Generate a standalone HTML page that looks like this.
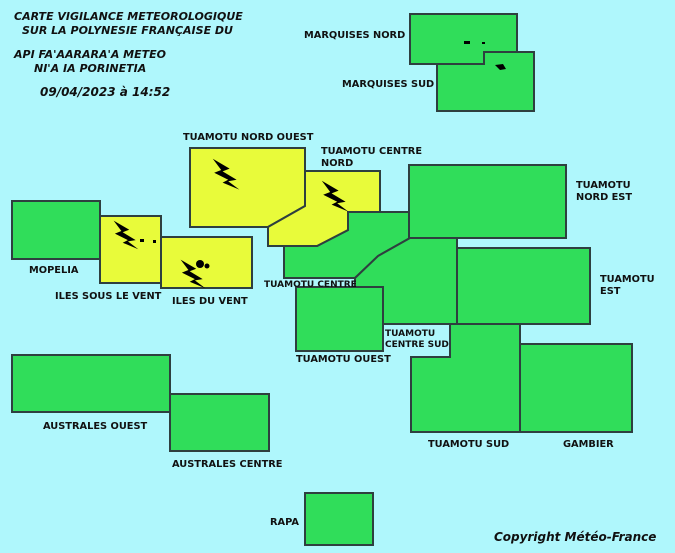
<!DOCTYPE html>
<html><head><meta charset="utf-8"><style>
html,body{margin:0;padding:0;background:#aff7fc;}
svg{display:block}
text{font-family:"DejaVu Sans","Liberation Sans",sans-serif;font-weight:bold;font-size:9.8px;fill:#111;}
.t{font-style:italic;font-size:11px;}
.b{font-style:italic;font-size:12px;}
</style></head><body>
<svg width="675" height="553" viewBox="0 0 675 553" xmlns="http://www.w3.org/2000/svg">
<rect width="675" height="553" fill="#aff7fc"/>
<g stroke="#2e3f3f" stroke-width="2" stroke-linejoin="miter">
<rect x="437" y="52" width="97" height="59" fill="#30dd5a"/>
<polygon points="410,14 517,14 517,52 484,52 484,64 410,64" fill="#30dd5a"/>
<rect x="12" y="201" width="88" height="58" fill="#30dd5a"/>
<rect x="100" y="216" width="61" height="67" fill="#e8fb3a"/>
<rect x="161" y="237" width="91" height="51" fill="#e8fb3a"/>
<polygon points="190,148 305,148 305,206 268,227 190,227" fill="#e8fb3a"/>
<polygon points="284,246 317,246 348,230 348,212 410,212 410,238 378,256 355,278 284,278" fill="#30dd5a"/>
<polygon points="305,171 380,171 380,212 348,212 348,230 317,246 268,246 268,227 305,206" fill="#e8fb3a"/>
<polygon points="355,278 378,256 410,238 457,238 457,324 383,324 383,287 355,287" fill="#30dd5a"/>
<rect x="409" y="165" width="157" height="73" fill="#30dd5a"/>
<rect x="457" y="248" width="133" height="76" fill="#30dd5a"/>
<rect x="296" y="287" width="87" height="64" fill="#30dd5a"/>
<polygon points="411,357 450,357 450,324 520,324 520,432 411,432" fill="#30dd5a"/>
<rect x="520" y="344" width="112" height="88" fill="#30dd5a"/>
<rect x="12" y="355" width="158" height="57" fill="#30dd5a"/>
<rect x="170" y="394" width="99" height="57" fill="#30dd5a"/>
<rect x="305" y="493" width="68" height="52" fill="#30dd5a"/>
</g>
<g fill="#000">
<g transform="translate(210,156) scale(1.4)"><polygon points="2,2 14,9 9,11 19,17 13,18 21,24 9,19 13,17 3,12 8,10"/></g>
<g transform="translate(319,178) scale(1.4)"><polygon points="2,2 14,9 9,11 19,17 13,18 21,24 9,19 13,17 3,12 8,10"/></g>
<g transform="translate(111,218) scale(1.3)"><polygon points="2,2 14,9 9,11 19,17 13,18 21,24 9,19 13,17 3,12 8,10"/></g>
<g transform="translate(178,257) scale(1.3)"><polygon points="2,2 14,9 9,11 19,17 13,18 21,24 9,19 13,17 3,12 8,10"/></g>
<circle cx="200" cy="264" r="4"/><circle cx="207" cy="266" r="2.5"/>
<rect x="140" y="239" width="4" height="3"/><rect x="153" y="240" width="3" height="3"/>
<rect x="464" y="41" width="6" height="3"/><rect x="482" y="42" width="3" height="2"/>
<polygon points="495,65 503,64 506,69 500,70"/>
</g>
<text class="t" x="14" y="20">CARTE VIGILANCE METEOROLOGIQUE</text>
<text class="t" x="22" y="34">SUR LA POLYNESIE FRANÇAISE DU</text>
<text class="t" x="14" y="58">API FA'AARARA'A METEO</text>
<text class="t" x="34" y="72">NI'A IA PORINETIA</text>
<text class="t" x="40" y="96" style="font-size:12px">09/04/2023 à 14:52</text>
<text x="304" y="38">MARQUISES NORD</text>
<text x="342" y="87">MARQUISES SUD</text>
<text x="183" y="140">TUAMOTU NORD OUEST</text>
<text x="321" y="154">TUAMOTU CENTRE</text>
<text x="321" y="166">NORD</text>
<text x="576" y="188">TUAMOTU</text>
<text x="576" y="200">NORD EST</text>
<text x="600" y="282">TUAMOTU</text>
<text x="600" y="294">EST</text>
<text x="29" y="273">MOPELIA</text>
<text x="55" y="299">ILES SOUS LE VENT</text>
<text x="172" y="304">ILES DU VENT</text>
<text x="264" y="287" style="font-size:9px">TUAMOTU CENTRE</text>
<text x="296" y="362">TUAMOTU OUEST</text>
<text x="385" y="336" style="font-size:9px">TUAMOTU</text>
<text x="385" y="347" style="font-size:9px">CENTRE SUD</text>
<text x="428" y="447">TUAMOTU SUD</text>
<text x="563" y="447">GAMBIER</text>
<text x="43" y="429">AUSTRALES OUEST</text>
<text x="172" y="467">AUSTRALES CENTRE</text>
<text x="270" y="525">RAPA</text>
<text class="b" x="494" y="541">Copyright Météo-France</text>
</svg>
</body></html>
